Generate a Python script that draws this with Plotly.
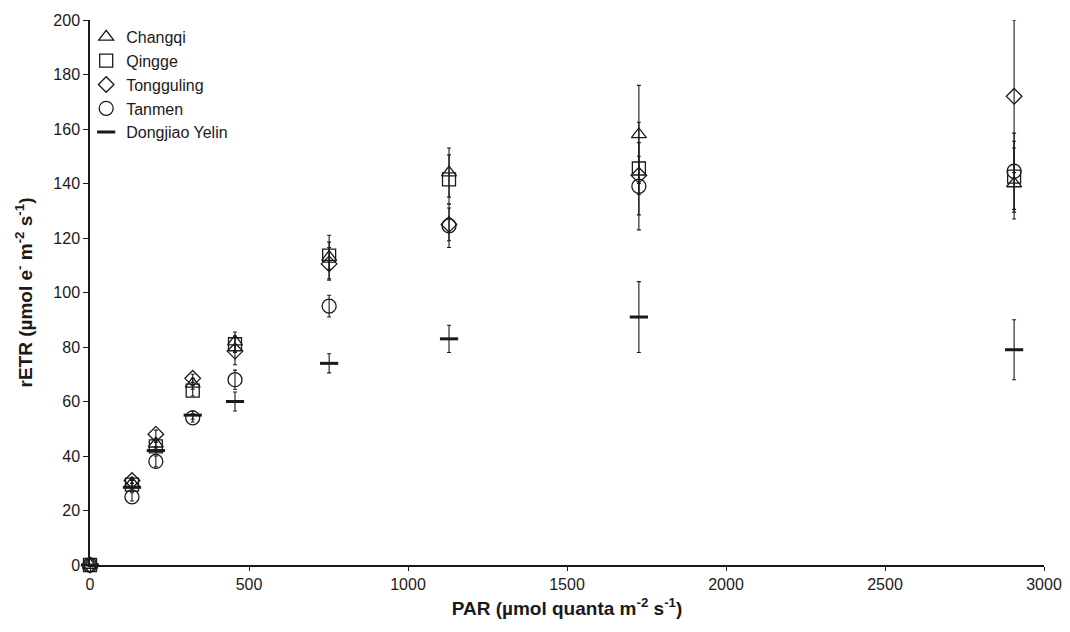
import plotly.graph_objects as go

par = [0, 132, 207, 323, 456, 752, 1129, 1726, 2906]

series_names = ["Changqi", "Qingge", "Tongguling", "Tanmen", "Dongjiao Yelin"]

changqi = [0, 30, 44.5, 66.5, 82, 113, 144, 158, 140]
changqi_err = [0, 1.5, 1.5, 2, 3.5, 8, 9, 18, 13]

qingge = [0, 29.5, 43.5, 64, 81, 113.5, 141.5, 145.5, 142.5]
qingge_err = [0, 1.5, 1.5, 2, 3, 5, 9, 17, 13]

tongguling = [0, 31, 48, 68.5, 78.5, 110.5, 125, 143, 172]
tongguling_err = [0, 1, 1.5, 1.5, 5, 6, 6, 7, 28]

tanmen = [0, 25, 38, 54, 68, 95, 124.5, 139, 144.5]
tanmen_err = [0, 1.5, 2, 1.5, 3.5, 4, 8, 16, 14]

dongjiao = [0, 28.5, 42, 55, 60, 74, 83, 91, 79]
dongjiao_err = [0, 1.5, 1.5, 1.5, 3.5, 3.5, 5, 13, 11]

values = [changqi, qingge, tongguling, tanmen, dongjiao]
errors = [changqi_err, qingge_err, tongguling_err, tanmen_err, dongjiao_err]
symbols = ["triangle-up-open", "square-open", "diamond-open", "circle-open", "line-ew"]
sizes = [13, 13, 12, 14, 13]
lwidths = [1.3, 1.3, 1.3, 1.3, 3]

INK = "#1a1a1a"
fig = go.Figure()
for i, name in enumerate(series_names):
    fig.add_trace(go.Scatter(
        x=par, y=values[i], name=name, mode="markers",
        legendgroup=name,
        marker=dict(symbol=symbols[i], size=sizes[i], color=INK,
                    line=dict(color=INK, width=lwidths[i])),
        error_y=dict(type="data", array=errors[i], color=INK, thickness=1.1, width=2),
        cliponaxis=False,
    ))

fig.update_layout(
    width=1062, height=624,
    margin=dict(l=82, r=26, t=12, b=67),
    paper_bgcolor="white", plot_bgcolor="white",
    font=dict(family="Liberation Sans, Arial, sans-serif", size=16, color=INK),
    showlegend=True,
    legend=dict(x=-0.004, y=1.0, xanchor="left", yanchor="top",
                bgcolor="rgba(0,0,0,0)", font=dict(size=16, color=INK),
                itemwidth=30, tracegroupgap=0),
    xaxis=dict(range=[0, 3000], tickvals=[0, 500, 1000, 1500, 2000, 2500, 3000],
               showline=True, linecolor=INK, linewidth=1.5, mirror=False,
               ticks="outside", ticklen=4, tickcolor=INK, tickwidth=1.2,
               showgrid=False, zeroline=False, automargin=False,
               tickfont=dict(family="Liberation Sans Narrow, Liberation Sans, Arial", size=16),
               title=dict(text="<b>PAR (µmol quanta m<sup>-2</sup> s<sup>-1</sup>)</b>",
                          font=dict(size=19), standoff=10)),
    yaxis=dict(range=[0, 200], tickvals=list(range(0, 201, 20)),
               showline=True, linecolor=INK, linewidth=1.5,
               ticks="outside", ticklen=5, tickcolor=INK, tickwidth=1.2,
               showgrid=False, zeroline=False, automargin=False,
               tickfont=dict(size=16),
               title=dict(text="<b>rETR (µmol e<sup>-</sup> m<sup>-2</sup> s<sup>-1</sup>)</b>",
                          font=dict(size=19), standoff=16)),
)

fig.write_html("out.html")
